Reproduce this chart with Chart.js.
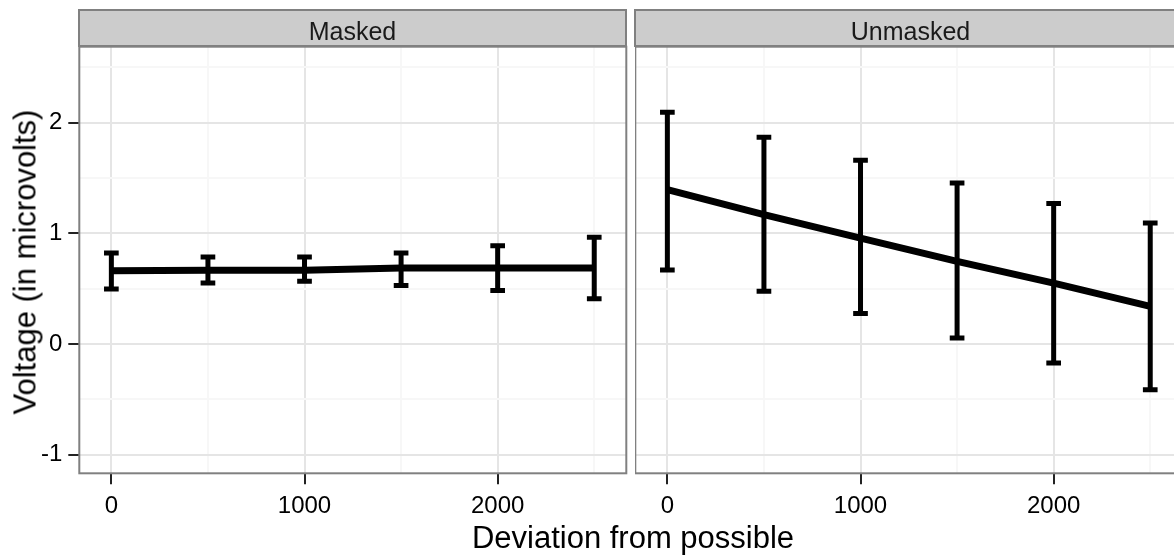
<!DOCTYPE html>
<html><head><meta charset="utf-8">
<script src="https://cdn.jsdelivr.net/npm/chart.js@4/dist/chart.umd.min.js"></script>
<style>
html,body{margin:0;padding:0;background:#fff;}
#wrap{position:relative;width:1174px;height:556px;overflow:hidden;font-family:"Liberation Sans",Arial,sans-serif;color:#000;}
canvas{position:absolute;top:0;}
.strip{position:absolute;top:9px;height:38px;box-sizing:border-box;background:#cccccc;border:2px solid #808080;}
.striptext{position:absolute;left:0;right:0;top:1px;line-height:38px;text-align:center;font-size:25px;color:#1a1a1a;white-space:nowrap;}
.ytitle{position:absolute;left:25px;top:262px;transform:translate(-50%,-50%) rotate(-90deg);font-size:31px;white-space:nowrap;line-height:31px;}
.xtitle{position:absolute;left:633px;top:537px;transform:translate(-50%,-50%);font-size:31px;white-space:nowrap;line-height:31px;}
</style>
</head><body>
<div id="wrap">
  <canvas id="cMasked" width="628" height="556" style="left:0px"></canvas>
  <canvas id="cUnmasked" width="549" height="556" style="left:635px"></canvas>
  <div class="strip" style="left:78px;width:549px;"><div class="striptext" id="s1"></div></div>
  <div class="strip" style="left:634px;width:560px;"><div class="striptext" id="s2" style="width:549px"></div></div>
  <div class="ytitle" id="yt"></div>
  <div class="xtitle" id="xt"></div>
</div>
<script>
// ---- data ----
const panels = ["Masked", "Unmasked"];
const deviation = [0, 500, 1000, 1500, 2000, 2500];
const maskedMean  = [0.663, 0.666, 0.668, 0.687, 0.687, 0.687];
const maskedLow   = [0.497, 0.551, 0.567, 0.530, 0.483, 0.410];
const maskedHigh  = [0.822, 0.786, 0.786, 0.822, 0.889, 0.964];
const unmaskedMean = [1.395, 1.169, 0.958, 0.747, 0.551, 0.341];
const unmaskedLow  = [0.669, 0.476, 0.275, 0.054, -0.172, -0.412];
const unmaskedHigh = [2.094, 1.868, 1.660, 1.455, 1.269, 1.093];
const xTicks = [0, 500, 1000, 1500, 2000, 2500];
const yTicks = [-1, -0.5, 0, 0.5, 1, 1.5, 2, 2.5];
const xTitle = "Deviation from possible";
const yTitle = "Voltage (in microvolts)";

document.getElementById('s1').textContent = panels[0];
document.getElementById('s2').textContent = panels[1];
document.getElementById('xt').textContent = xTitle;
document.getElementById('yt').textContent = yTitle;

const FONT = {family: '"Liberation Sans", Arial, sans-serif', size: 24};
const isMajorX = v => v % 1000 === 0;
const isMajorY = v => Number.isInteger(v);

const errorBarPlugin = {
  id: 'errbars',
  afterDatasetsDraw(chart, args, opts) {
    const {ctx, scales: {x, y}} = chart;
    ctx.save();
    ctx.strokeStyle = '#000';
    ctx.lineWidth = opts.width;
    ctx.lineCap = 'butt';
    opts.xs.forEach((xv, i) => {
      const px = x.getPixelForValue(xv);
      const pl = y.getPixelForValue(opts.low[i]);
      const ph = y.getPixelForValue(opts.high[i]);
      const half = opts.capHalf;
      const cl = x.getPixelForValue(xv - half), cr = x.getPixelForValue(xv + half);
      ctx.beginPath();
      ctx.moveTo(px, pl); ctx.lineTo(px, ph);
      ctx.moveTo(cl, pl); ctx.lineTo(cr, pl);
      ctx.moveTo(cl, ph); ctx.lineTo(cr, ph);
      ctx.stroke();
    });
    ctx.restore();
  },
  afterDraw(chart) {
    const {ctx, chartArea: a} = chart;
    ctx.save();
    ctx.strokeStyle = '#808080';
    ctx.lineWidth = 2;
    ctx.strokeRect(a.left, a.top, a.right - a.left, a.bottom - a.top);
    ctx.restore();
  }
};

function makeChart(id, mean, low, high, showY, pad) {
  return new Chart(document.getElementById(id), {
    type: 'line',
    data: {
      datasets: [{
        data: deviation.map((d, i) => ({x: d, y: mean[i]})),
        borderColor: '#000', borderWidth: 7, pointRadius: 0, tension: 0,
        borderCapStyle: 'butt', borderJoinStyle: 'round'
      }]
    },
    options: {
      responsive: false, animation: false,
      layout: {padding: pad},
      plugins: {
        legend: {display: false}, tooltip: {enabled: false},
        errbars: {xs: deviation, low: low, high: high, width: 5, capHalf: 38}
      },
      scales: {
        x: {
          type: 'linear', min: -166, max: 2666,
          afterBuildTicks: s => { s.ticks = xTicks.map(v => ({value: v})); },
          afterFit: s => { s.height = 82.7; },
          border: {display: false},
          grid: {
            color: c => isMajorX(c.tick.value) ? '#e5e5e5' : '#f7f7f7',
            lineWidth: 2, drawTicks: true, tickLength: 11,
            tickColor: c => isMajorX(c.tick.value) ? '#222' : 'rgba(0,0,0,0)',
            tickWidth: 2
          },
          ticks: {
            callback: v => isMajorX(v) ? String(v) : '',
            color: '#000', font: FONT, padding: 8, maxRotation: 0, autoSkip: false
          }
        },
        y: {
          type: 'linear', min: -1.168, max: 2.687,
          afterBuildTicks: s => { s.ticks = yTicks.map(v => ({value: v})); },
          afterFit: s => { s.width = showY ? 79.3 : 0; },
          border: {display: false},
          grid: {
            color: c => isMajorY(c.tick.value) ? '#e5e5e5' : '#f7f7f7',
            lineWidth: 2, drawTicks: showY, tickLength: 11,
            tickColor: c => isMajorY(c.tick.value) ? '#222' : 'rgba(0,0,0,0)',
            tickWidth: 2
          },
          ticks: {
            display: showY,
            callback: v => isMajorY(v) ? String(v) : '',
            color: '#000', font: FONT, padding: 6, autoSkip: false
          }
        }
      }
    },
    plugins: [errorBarPlugin]
  });
}

makeChart('cMasked', maskedMean, maskedLow, maskedHigh, true, {top: 46.7, right: 1.7, left: 0, bottom: 0});
makeChart('cUnmasked', unmaskedMean, unmaskedLow, unmaskedHigh, false, {top: 46.7, right: 1.7, left: 0.3, bottom: 0});
</script>
</body></html>
